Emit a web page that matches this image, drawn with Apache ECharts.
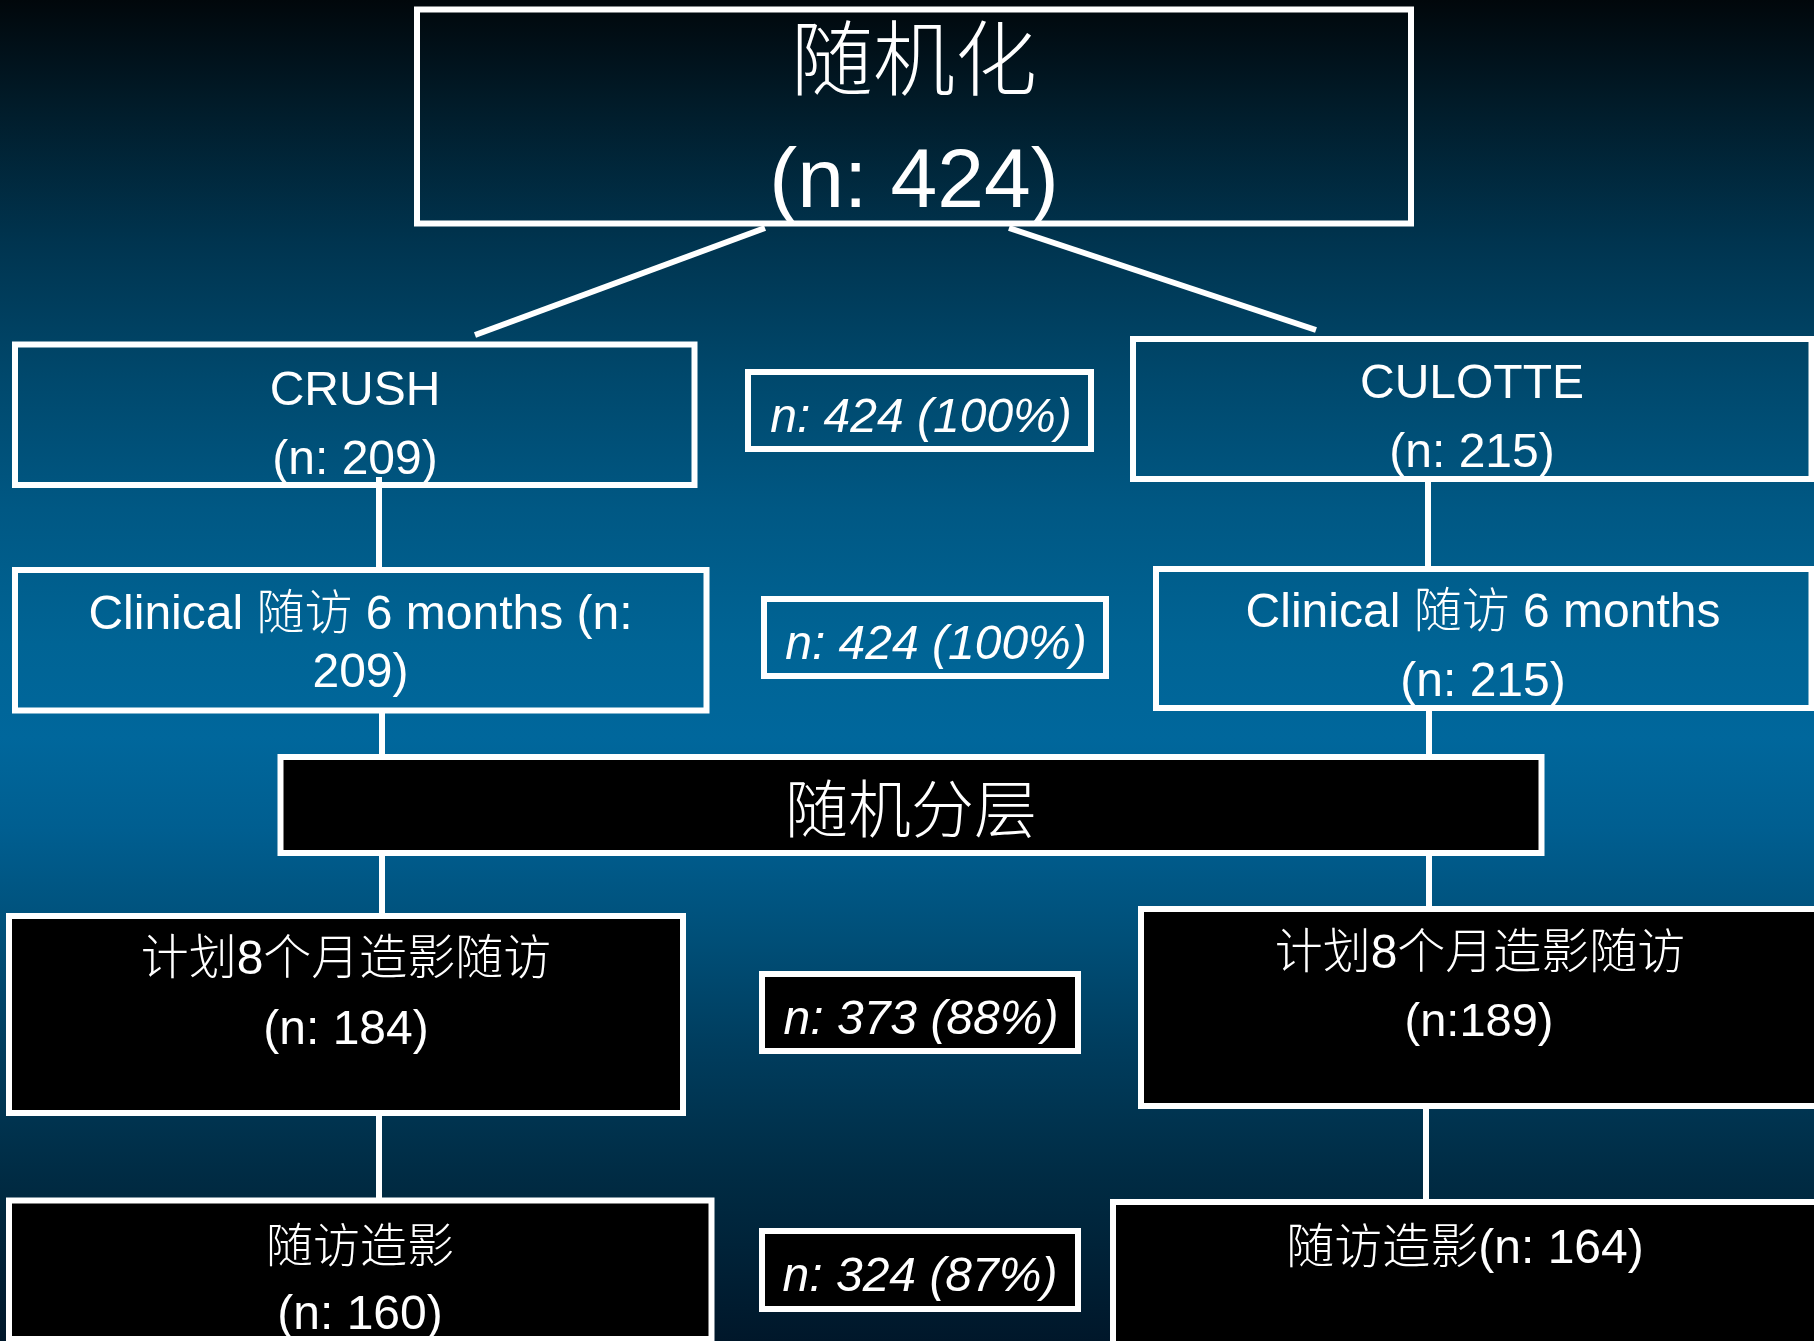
<!DOCTYPE html>
<html>
<head>
<meta charset="utf-8">
<script src="https://cdn.jsdelivr.net/npm/echarts@6/dist/echarts.min.js"></script>
<style>
  html, body { margin: 0; padding: 0; background: #000; }
  #chart { width: 1814px; height: 1341px; }
</style>
</head>
<body>
<div id="chart"></div>
<script>
// Study arms and patient counts at each stage of the trial
const armNames = ['CRUSH', 'CULOTTE'];
const randomizedTotal = 424;
const armCounts = [209, 215];
const clinicalFollowUp = [209, 215];
const angioPlanned = [184, 189];
const angioPerformed = [160, 164];
// Pooled totals shown between the two arms, one per stage
const pooledCounts = [424, 424, 373, 324];
const pooledPercents = [100, 100, 88, 87];
// Stage captions
const titleText = '随机化';
const stratifyText = '随机分层';
const clinicalText = 'Clinical 随访 6 months';
const plannedText = '计划8个月造影随访';
const angioText = '随访造影';

const FONT = '"Liberation Sans", Arial, "Noto Sans CJK SC", sans-serif';
const STROKE = 6;
const WHITE = '#ffffff';
const TEXT_DY = 4;

function box(x1, y1, x2, y2, fill) {
  return {
    type: 'rect', z: 1,
    shape: { x: x1, y: y1, width: x2 - x1, height: y2 - y1 },
    style: { fill: fill || 'rgba(0,0,0,0)', stroke: WHITE, lineWidth: STROKE }
  };
}
function seg(x1, y1, x2, y2) {
  return {
    type: 'line', z: 3,
    shape: { x1: x1, y1: y1, x2: x2, y2: y2 },
    style: { stroke: WHITE, lineWidth: STROKE, lineCap: 'butt' }
  };
}
function label(text, x, y, size, italic) {
  return {
    type: 'text', z: 2,
    style: {
      text: text, x: x, y: y + TEXT_DY, fill: WHITE,
      fontSize: size, fontFamily: FONT, fontWeight: 300,
      fontStyle: italic ? 'italic' : 'normal',
      align: 'center', verticalAlign: 'middle'
    }
  };
}
const nText = v => '(n: ' + v + ')';
const pooledText = i => 'n: ' + pooledCounts[i] + ' (' + pooledPercents[i] + '%)';

const elements = [
  // randomisation
  box(417, 9.5, 1411, 223.5),
  label(titleText, 914, 62, 82),
  label(nText(randomizedTotal), 914, 180, 84),
  seg(765, 228, 475, 335),
  seg(1009, 228, 1316, 330),

  // treatment arms
  box(15, 344.5, 694.5, 485),
  label(armNames[0], 355, 387.5, 48),
  label(nText(armCounts[0]), 355, 456.5, 48),
  box(1133, 339, 1811.5, 479),
  label(armNames[1], 1472, 380.5, 48),
  label(nText(armCounts[1]), 1472, 450, 48),
  box(748, 372, 1091, 449),
  label(pooledText(0), 921, 414.5, 48, true),
  seg(379, 477, 379, 570),
  seg(1428, 482, 1428, 569),

  // clinical follow-up
  box(15, 570, 706.5, 710.5),
  label(clinicalText + ' (n:', 360.5, 611.5, 48),
  label(clinicalFollowUp[0] + ')', 360.5, 670, 48),
  box(1156, 569, 1811.5, 708),
  label(clinicalText, 1483, 610, 48),
  label(nText(clinicalFollowUp[1]), 1483, 679, 48),
  box(764, 599, 1106, 676),
  label(pooledText(1), 936, 641.5, 48, true),
  seg(382, 710, 382, 757),
  seg(1429, 708, 1429, 757),

  // stratification
  box(280.5, 757, 1541.5, 853, '#000'),
  label(stratifyText, 911, 811, 63),
  seg(382, 853, 382, 916),
  seg(1429, 853, 1429, 909),

  // planned angiographic follow-up
  box(9, 916, 683, 1113, '#000'),
  label(plannedText, 346, 957, 48),
  label(nText(angioPlanned[0]), 346, 1027, 48),
  box(1141, 909, 1830, 1106, '#000'),
  label(plannedText, 1480, 951, 48),
  label('(n:' + angioPlanned[1] + ')', 1479, 1019.5, 47),
  box(762, 974, 1078, 1051, '#000'),
  label(pooledText(2), 921, 1016.5, 48, true),
  seg(379, 1113, 379, 1200),
  seg(1426, 1106, 1426, 1202),

  // angiography performed
  box(9, 1200.5, 711.5, 1339, '#000'),
  label(angioText, 360, 1245, 47),
  label(nText(angioPerformed[0]), 360, 1312, 48),
  box(1113, 1202, 1830, 1350, '#000'),
  label(angioText + nText(angioPerformed[1]), 1465, 1246, 48),
  box(762, 1231, 1078, 1309, '#000'),
  label(pooledText(3), 920, 1273.5, 48, true)
];

const chart = echarts.init(document.getElementById('chart'), null, { renderer: 'canvas' });
chart.setOption({
  animation: false,
  backgroundColor: new echarts.graphic.LinearGradient(0, 0, 0, 1, [
    { offset: 0.00, color: '#01070b' },
    { offset: 0.08, color: '#011c2a' },
    { offset: 0.18, color: '#00344f' },
    { offset: 0.28, color: '#00486c' },
    { offset: 0.38, color: '#005884' },
    { offset: 0.48, color: '#006495' },
    { offset: 0.55, color: '#00679c' },
    { offset: 0.62, color: '#005e90' },
    { offset: 0.70, color: '#004f78' },
    { offset: 0.78, color: '#003d5e' },
    { offset: 0.88, color: '#002b43' },
    { offset: 1.00, color: '#00172a' }
  ]),
  graphic: { elements: elements }
});
</script>
</body>
</html>
